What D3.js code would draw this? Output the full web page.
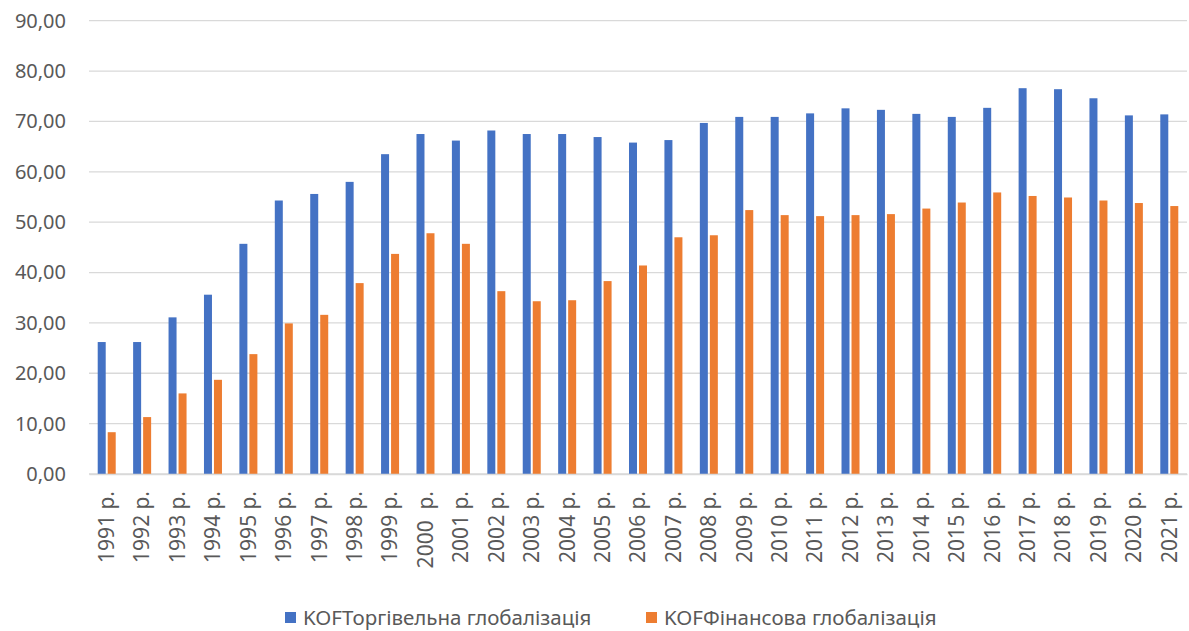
<!DOCTYPE html>
<html><head><meta charset="utf-8">
<script src="https://cdn.jsdelivr.net/npm/d3@7"></script>
<style>body{margin:0;background:#fff;} text{font-family:"Noto Sans",sans-serif;fill:#595959;}</style>
</head><body>
<svg id="c" width="1189" height="631"></svg>
<script>
const years = ["1991 р.","1992 р.","1993 р.","1994 р.","1995 р.","1996 р.","1997 р.","1998 р.","1999 р.","2000  р.","2001 р.","2002 р.","2003 р.","2004 р.","2005 р.","2006 р.","2007 р.","2008 р.","2009 р.","2010 р.","2011 р.","2012 р.","2013 р.","2014 р.","2015 р.","2016 р.","2017 р.","2018 р.","2019 р.","2020 р.","2021 р."];
const trade = [26.2,26.2,31.1,35.6,45.7,54.3,55.6,58.0,63.5,67.5,66.2,68.2,67.5,67.5,66.9,65.8,66.3,69.7,70.9,70.9,71.6,72.6,72.3,71.5,70.9,72.7,76.6,76.4,74.6,71.2,71.4];
const finance = [8.3,11.3,16.0,18.7,23.8,29.9,31.6,37.9,43.7,47.8,45.7,36.3,34.3,34.5,38.3,41.4,47.0,47.4,52.4,51.4,51.2,51.4,51.6,52.7,53.9,55.9,55.2,54.9,54.3,53.8,53.2];
const seriesNames = ["KOFТоргівельна глобалізація","KOFФінансова глобалізація"];
const colors = ["#4472C4","#ED7D31"];
const yTicks = [0,10,20,30,40,50,60,70,80,90];

const svg = d3.select("#c");
const L = 89, R = 1187, T = 20.7, B = 474;
const x = d3.scaleBand().domain(years).range([L, R]).paddingInner(0).paddingOuter(0);
const y = d3.scaleLinear().domain([0, 90]).range([B, T]);
const fmt = v => d3.format(".2f")(v).replace(".", ",");

// gridlines
svg.append("g").selectAll("line").data(yTicks).join("line")
  .attr("x1", L).attr("x2", R).attr("y1", d => y(d)).attr("y2", d => y(d))
  .attr("stroke", "#d9d9d9").attr("stroke-width", 1.3);

// y axis labels
const yAxis = d3.axisLeft(y).tickValues(yTicks).tickFormat(fmt).tickSize(0).tickPadding(0);
const gy = svg.append("g").attr("transform", `translate(66,0)`).call(yAxis);
gy.select(".domain").remove();
gy.selectAll("text").style("font-size", "20px").attr("fill", "#595959").attr("font-family", "Noto Sans");

// bars
const sub = d3.scaleBand().domain([0,1]).range([0, 18]).paddingInner(0.2);
const off = (x.bandwidth() - 18) / 2;
const data = [trade, finance];
data.forEach((arr, si) => {
  svg.append("g").selectAll("rect").data(arr).join("rect")
    .attr("x", (d, i) => x(years[i]) + off + sub(si))
    .attr("width", sub.bandwidth())
    .attr("y", d => y(d))
    .attr("height", d => B - y(d))
    .attr("fill", colors[si]);
});

// x axis
const xAxis = d3.axisBottom(x).tickSize(0).tickPadding(0);
const gx = svg.append("g").attr("transform", `translate(0,${B})`).call(xAxis);
gx.select(".domain").attr("stroke", "#d9d9d9").attr("stroke-width", 1.3);
gx.selectAll("text")
  .style("font-size", "21px").attr("fill", "#595959").attr("font-family", "Noto Sans")
  .attr("transform", "rotate(-90)")
  .attr("text-anchor", "end").attr("dy", "0.35em").attr("x", -17).attr("y", 0)
  .style("white-space", "pre").attr("xml:space", "preserve");

// legend
const legX = [285, 646];
const lg = svg.append("g");
seriesNames.forEach((n, i) => {
  lg.append("rect").attr("x", legX[i]).attr("y", 612).attr("width", 11).attr("height", 11).attr("fill", colors[i]);
  lg.append("text").attr("x", legX[i] + 18).attr("y", 625).text(n).style("font-size", "20.5px");
});
</script>
</body></html>
